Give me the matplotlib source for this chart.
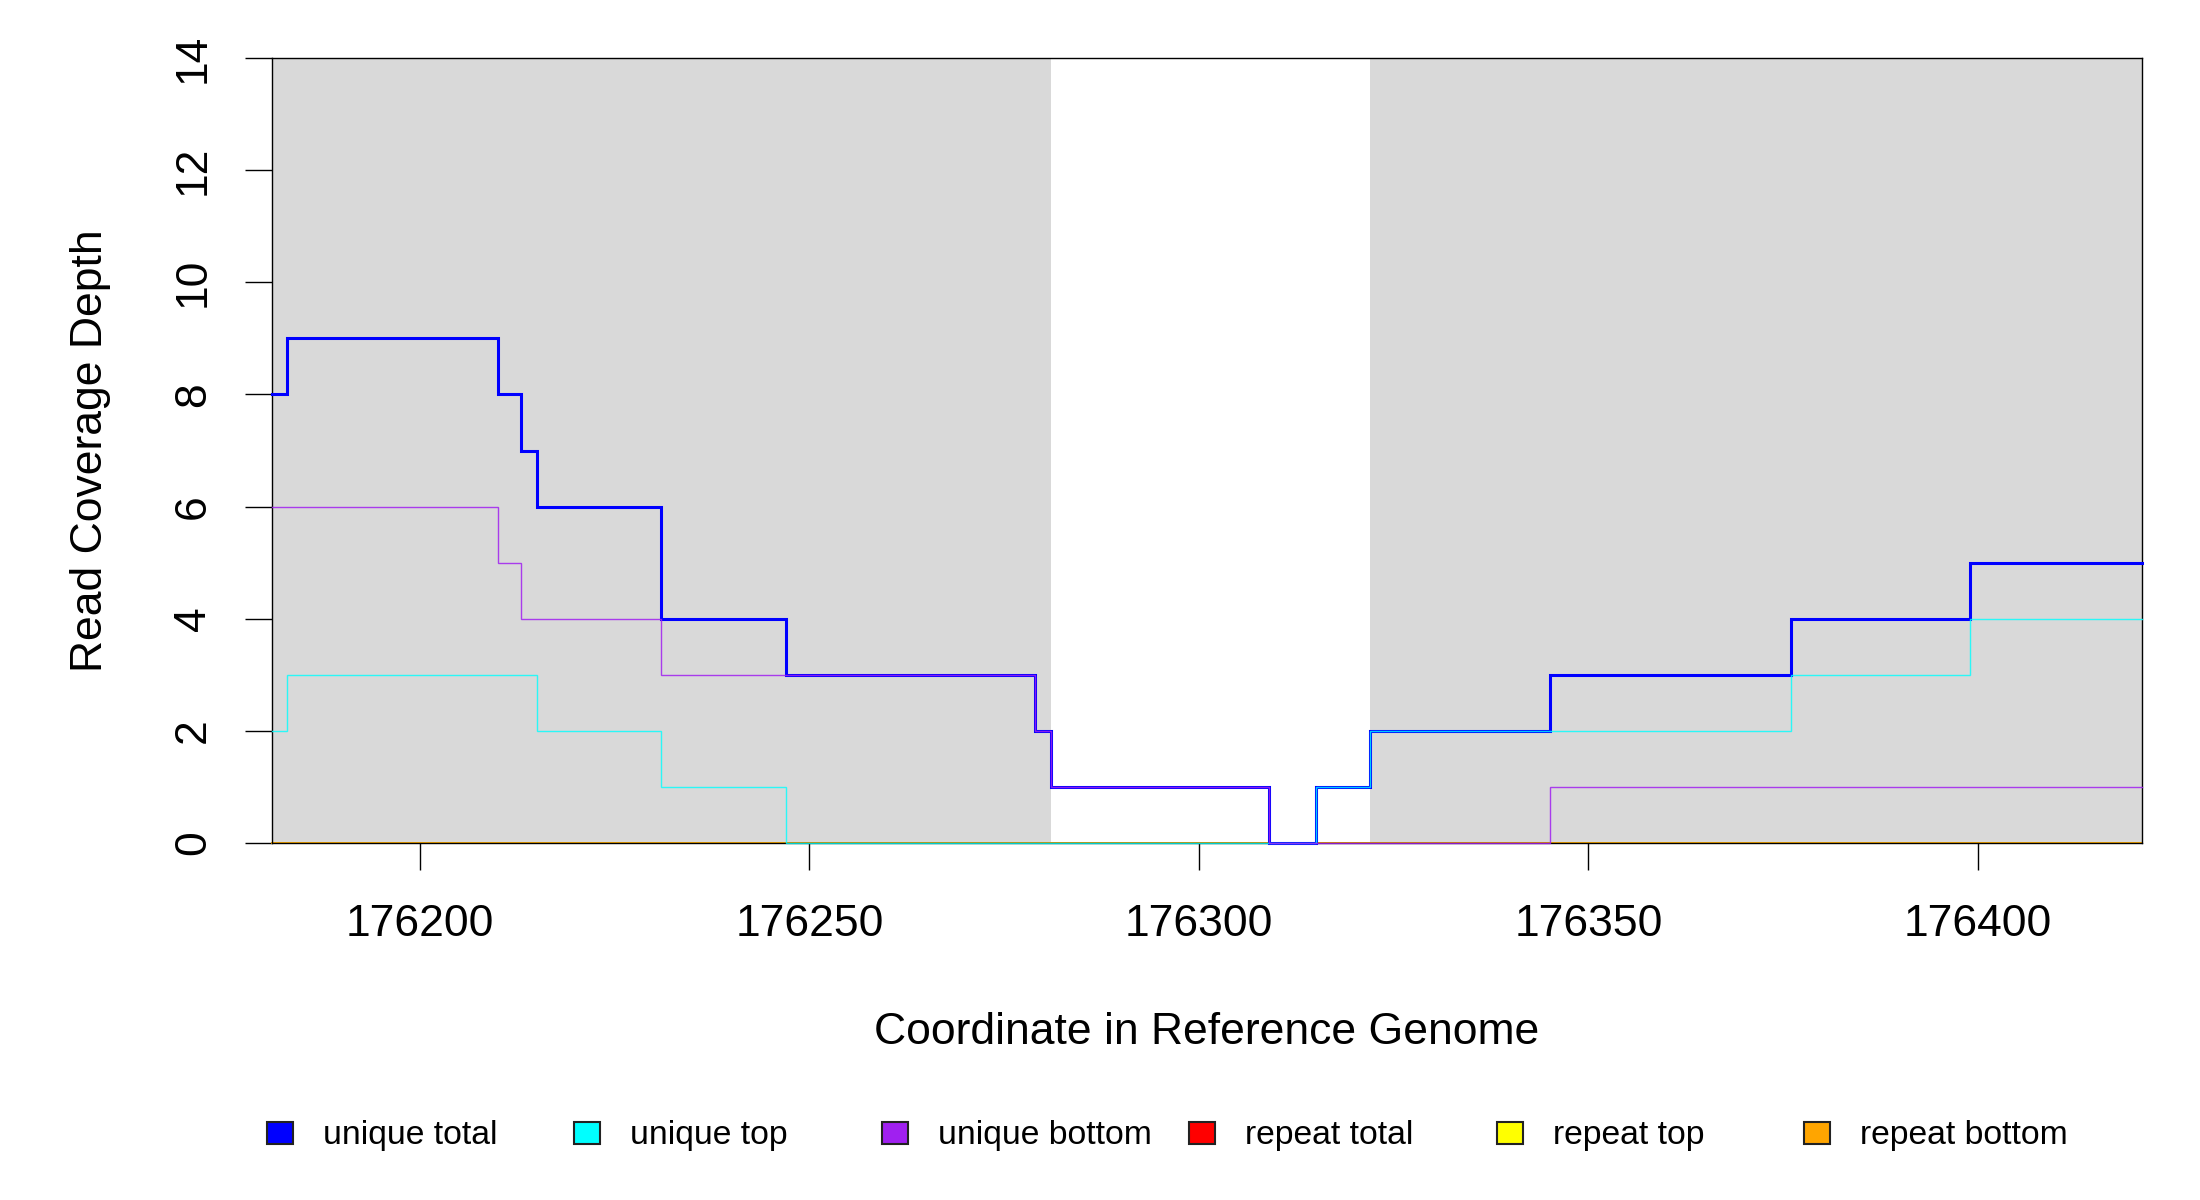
import matplotlib
matplotlib.use("Agg")
import matplotlib.pyplot as plt
from matplotlib.patches import Rectangle

plt.rcParams["font.family"] = ["Liberation Sans", "DejaVu Sans"]

# coverage step data (x = position where a new value starts)
total_x = [176181, 176183, 176210, 176213, 176215, 176231, 176247, 176279,
           176281, 176309, 176315, 176322, 176345, 176376, 176399, 176421]
total_y = [8, 9, 8, 7, 6, 4, 3, 2, 1, 0, 1, 2, 3, 4, 5]

top_x = [176181, 176183, 176215, 176231, 176247, 176315, 176322, 176376,
         176399, 176421]
top_y = [2, 3, 2, 1, 0, 1, 2, 3, 4]

bottom_x = [176181, 176210, 176213, 176231, 176279, 176281, 176309, 176345,
            176421]
bottom_y = [6, 5, 4, 3, 2, 1, 0, 1]

repeat_x = [176181, 176421]
repeat_total_y = [0]
repeat_top_y = [0]
repeat_bottom_y = [0]

# shaded regions (start, end)
shaded = [(176181, 176281), (176322, 176421)]

x_ticks = [176200, 176250, 176300, 176350, 176400]
y_ticks = [0, 2, 4, 6, 8, 10, 12, 14]

legend_labels = ["unique total", "unique top", "unique bottom",
                 "repeat total", "repeat top", "repeat bottom"]
legend_colors = ["#0000FF", "#00FFFF", "#A020F0", "#FF0000", "#FFFF00", "#FFA500"]

W, H = 2200, 1200
fig = plt.figure(figsize=(22, 12), dpi=100)
ax = fig.add_axes([271.7 / W, 1 - 842.7 / H, 1870 / W, 784.4 / H])

for x0, x1 in shaded:
    ax.add_patch(Rectangle((x0, 0), x1 - x0, 14, facecolor="#D9D9D9",
                           edgecolor="none", zorder=0))


def step(xs, ys, color, lw, alpha=1.0, z=2):
    ax.step(xs, list(ys) + [ys[-1]], where="post", color=color, lw=lw,
            alpha=alpha, zorder=z, clip_on=False, solid_joinstyle="miter")


step(repeat_x, repeat_total_y, "#FF0000", 1.3, z=2)
step(repeat_x, repeat_top_y, "#FFFF00", 1.3, z=2.1)
step(repeat_x, repeat_bottom_y, "#FFA500", 1.3, z=2.2)
step(total_x, total_y, "#0000FF", 2.2, z=3)
step(top_x, top_y, "#00FFFF", 1.0, alpha=0.8, z=4)
step(bottom_x, bottom_y, "#A020F0", 1.0, alpha=0.85, z=5)

ax.set_xlim(176181, 176421)
ax.set_ylim(0, 14)

for s in ax.spines.values():
    s.set_linewidth(1.0)
    s.set_color("black")

ax.set_xticks(x_ticks)
ax.set_xticklabels([str(v) for v in x_ticks], va="center_baseline")
ax.set_yticks(y_ticks)
ax.set_yticklabels([str(v) for v in y_ticks], rotation=90, ha="center",
                   va="center")
ax.tick_params(axis="both", length=19.4, width=1.0, labelsize=32)
ax.tick_params(axis="x", pad=36)
ax.tick_params(axis="y", pad=37)

ax.set_xlabel("Coordinate in Reference Genome", fontsize=32)
ax.xaxis.set_label_coords(0.5, (842.7 - 1032) / 784.4)
ax.xaxis.label.set_va("center")
ax.set_ylabel("Read Coverage Depth", fontsize=32)
ax.yaxis.set_label_coords((91 - 271.7) / 1870, 0.5)
ax.yaxis.label.set_va("center")
ax.yaxis.label.set_ha("center")

# legend row drawn by hand, evenly spaced like the original
for i, (lab, col) in enumerate(zip(legend_labels, legend_colors)):
    cx = 280 + i * 307.4
    fig.patches.append(Rectangle(((cx - 13) / W, 1 - 1144 / H), 26 / W, 22 / H,
                                 transform=fig.transFigure, facecolor=col,
                                 edgecolor="#222222", lw=1.5))
    fig.text((cx + 43) / W, 1 - 1144 / H, lab, fontsize=24.3, va="baseline",
             ha="left")

fig.savefig("out.png", dpi=100, facecolor="white")
